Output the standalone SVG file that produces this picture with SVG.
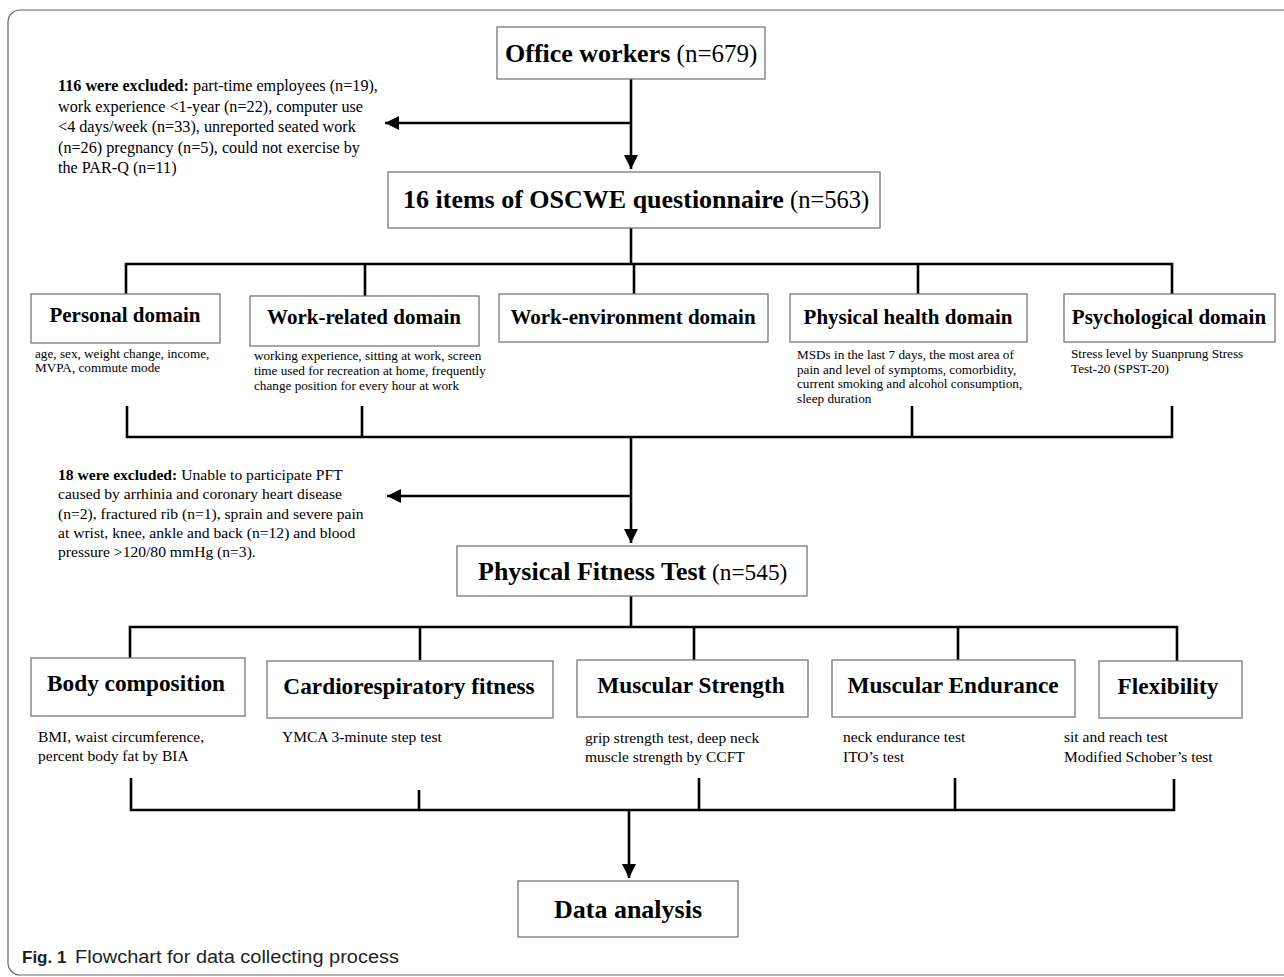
<svg xmlns="http://www.w3.org/2000/svg" width="1284" height="977" viewBox="0 0 1284 977">
<defs>
<style>
.box{fill:#fff;stroke:#6d6d6d;stroke-width:1.2}
.ln{fill:none;stroke:#000;stroke-width:2.6}
.t{font-family:"Liberation Serif","Times New Roman",serif;fill:#000}
.b{font-weight:bold}
.dom{font-size:21px;font-weight:bold}
.dd{font-size:13.2px}
.fit{font-size:23.3px;font-weight:bold}
.fd{font-size:15.5px}
.cap{font-family:"Liberation Sans",Arial,sans-serif;fill:#231f20}
</style>
<marker id="ah" viewBox="0 0 10 10" refX="10" refY="5" markerWidth="5.5" markerHeight="5.5" orient="auto" markerUnits="strokeWidth">
<path d="M0,0 L10,5 L0,10 z" fill="#000"/>
</marker>
</defs>
<rect x="0" y="0" width="1284" height="977" fill="#fff"/>
<rect x="8" y="10" width="1300" height="965" rx="12" fill="none" stroke="#666" stroke-width="1.2"/>

<g id="connectors">
<path class="ln" d="M631,79 V169" marker-end="url(#ah)"/>
<path class="ln" d="M631,123 H385" marker-end="url(#ah)"/>
<path class="ln" d="M631,228 V264"/>
<path class="ln" d="M126,294 V264 H1172 V294"/>
<path class="ln" d="M365,264 V296"/>
<path class="ln" d="M634,264 V294"/>
<path class="ln" d="M918,264 V294"/>
<path class="ln" d="M127,406 V437 H1172 V406"/>
<path class="ln" d="M362,406 V437"/>
<path class="ln" d="M912,406 V437"/>
<path class="ln" d="M631,437 V543" marker-end="url(#ah)"/>
<path class="ln" d="M631,496 H387" marker-end="url(#ah)"/>
<path class="ln" d="M631,596 V627"/>
<path class="ln" d="M130,658 V627 H1177 V661"/>
<path class="ln" d="M420,627 V660"/>
<path class="ln" d="M694,627 V660"/>
<path class="ln" d="M958,627 V660"/>
<path class="ln" d="M131,778 V810 H1174 V779"/>
<path class="ln" d="M419,790 V810"/>
<path class="ln" d="M699,778 V810"/>
<path class="ln" d="M955,778 V810"/>
<path class="ln" d="M629,810 V878" marker-end="url(#ah)"/>
</g>

<g id="office">
<rect class="box" x="497" y="27" width="268" height="52"/>
<text class="t" x="505" y="62"><tspan class="b" font-size="26">Office workers</tspan><tspan font-size="25"> (n=679)</tspan></text>
</g>

<g id="excl1">
<text class="t" font-size="16.2" x="58" y="91"><tspan class="b">116 were excluded:</tspan> part-time employees (n=19),</text>
<text class="t" font-size="16.2" x="58" y="111.5">work experience &lt;1-year (n=22), computer use</text>
<text class="t" font-size="16.2" x="58" y="132">&lt;4 days/week (n=33), unreported seated work</text>
<text class="t" font-size="16.2" x="58" y="152.5">(n=26) pregnancy (n=5), could not exercise by</text>
<text class="t" font-size="16.2" x="58" y="173">the PAR-Q (n=11)</text>
</g>

<g id="oscwe">
<rect class="box" x="388" y="172" width="492" height="56"/>
<text class="t" x="403" y="208"><tspan class="b" font-size="26">16 items of OSCWE questionnaire</tspan><tspan font-size="24.5"> (n=563)</tspan></text>
</g>

<g id="personal">
<rect class="box" x="31" y="294" width="189" height="49"/>
<text class="t dom" x="125" y="322" text-anchor="middle">Personal domain</text>
<text class="t dd" x="35" y="358">age, sex, weight change, income,</text>
<text class="t dd" x="35" y="372">MVPA, commute mode</text>
</g>

<g id="workrelated">
<rect class="box" x="250" y="296" width="229" height="50"/>
<text class="t dom" x="364" y="324" text-anchor="middle">Work-related domain</text>
<text class="t dd" x="254" y="360">working experience, sitting at work, screen</text>
<text class="t dd" x="254" y="375">time used for recreation at home, frequently</text>
<text class="t dd" x="254" y="390">change position for every hour at work</text>
</g>

<g id="workenv">
<rect class="box" x="499" y="294" width="269" height="48"/>
<text class="t dom" x="633" y="324" text-anchor="middle">Work-environment domain</text>
</g>

<g id="physhealth">
<rect class="box" x="790" y="294" width="237" height="48"/>
<text class="t dom" x="908" y="324" text-anchor="middle">Physical health domain</text>
<text class="t dd" x="797" y="359">MSDs in the last 7 days, the most area of</text>
<text class="t dd" x="797" y="373.5">pain and level of symptoms, comorbidity,</text>
<text class="t dd" x="797" y="388">current smoking and alcohol consumption,</text>
<text class="t dd" x="797" y="402.5">sleep duration</text>
</g>

<g id="psych">
<rect class="box" x="1064" y="294" width="211" height="48"/>
<text class="t dom" x="1169" y="324" text-anchor="middle">Psychological domain</text>
<text class="t dd" x="1071" y="358">Stress level by Suanprung Stress</text>
<text class="t dd" x="1071" y="373">Test-20 (SPST-20)</text>
</g>

<g id="excl2">
<text class="t" font-size="15.6" x="58" y="480"><tspan class="b">18 were excluded:</tspan>  Unable to participate PFT</text>
<text class="t" font-size="15.6" x="58" y="499">caused by arrhinia and coronary heart disease</text>
<text class="t" font-size="15.6" x="58" y="518.5">(n=2), fractured rib (n=1), sprain and severe pain</text>
<text class="t" font-size="15.6" x="58" y="538">at wrist, knee, ankle and back (n=12) and blood</text>
<text class="t" font-size="15.6" x="58" y="557">pressure &gt;120/80 mmHg (n=3).</text>
</g>

<g id="pft">
<rect class="box" x="457" y="546" width="350" height="50"/>
<text class="t" x="478" y="580"><tspan class="b" font-size="26">Physical Fitness Test</tspan><tspan font-size="23.3"> (n=545)</tspan></text>
</g>

<g id="bodycomp">
<rect class="box" x="31" y="658" width="214" height="58"/>
<text class="t fit" x="136" y="691" text-anchor="middle">Body composition</text>
<text class="t fd" x="38" y="742">BMI, waist circumference,</text>
<text class="t fd" x="38" y="761">percent body fat by BIA</text>
</g>

<g id="cardio">
<rect class="box" x="267" y="661" width="286" height="57"/>
<text class="t fit" x="409" y="694" text-anchor="middle">Cardiorespiratory fitness</text>
<text class="t fd" x="282" y="742">YMCA 3-minute step test</text>
</g>

<g id="strength">
<rect class="box" x="577" y="660" width="231" height="57"/>
<text class="t fit" x="691" y="693" text-anchor="middle">Muscular Strength</text>
<text class="t fd" x="585" y="743">grip strength test, deep neck</text>
<text class="t fd" x="585" y="762">muscle strength by CCFT</text>
</g>

<g id="endurance">
<rect class="box" x="832" y="660" width="243" height="57"/>
<text class="t fit" x="953" y="693" text-anchor="middle">Muscular Endurance</text>
<text class="t fd" x="843" y="742">neck endurance test</text>
<text class="t fd" x="843" y="762">ITO’s test</text>
</g>

<g id="flex">
<rect class="box" x="1099" y="661" width="143" height="57"/>
<text class="t fit" x="1168" y="694" text-anchor="middle">Flexibility</text>
<text class="t fd" x="1064" y="742">sit and reach test</text>
<text class="t fd" x="1064" y="762">Modified Schober’s test</text>
</g>

<g id="data">
<rect class="box" x="518" y="881" width="220" height="56"/>
<text class="t b" font-size="26" x="628" y="918" text-anchor="middle">Data analysis</text>
</g>

<g id="caption">
<text class="cap" font-size="17" x="22" y="963" font-weight="bold">Fig. 1</text>
<text class="cap" font-size="18" x="75" y="963" textLength="324" lengthAdjust="spacingAndGlyphs">Flowchart for data collecting process</text>
</g>
</svg>
